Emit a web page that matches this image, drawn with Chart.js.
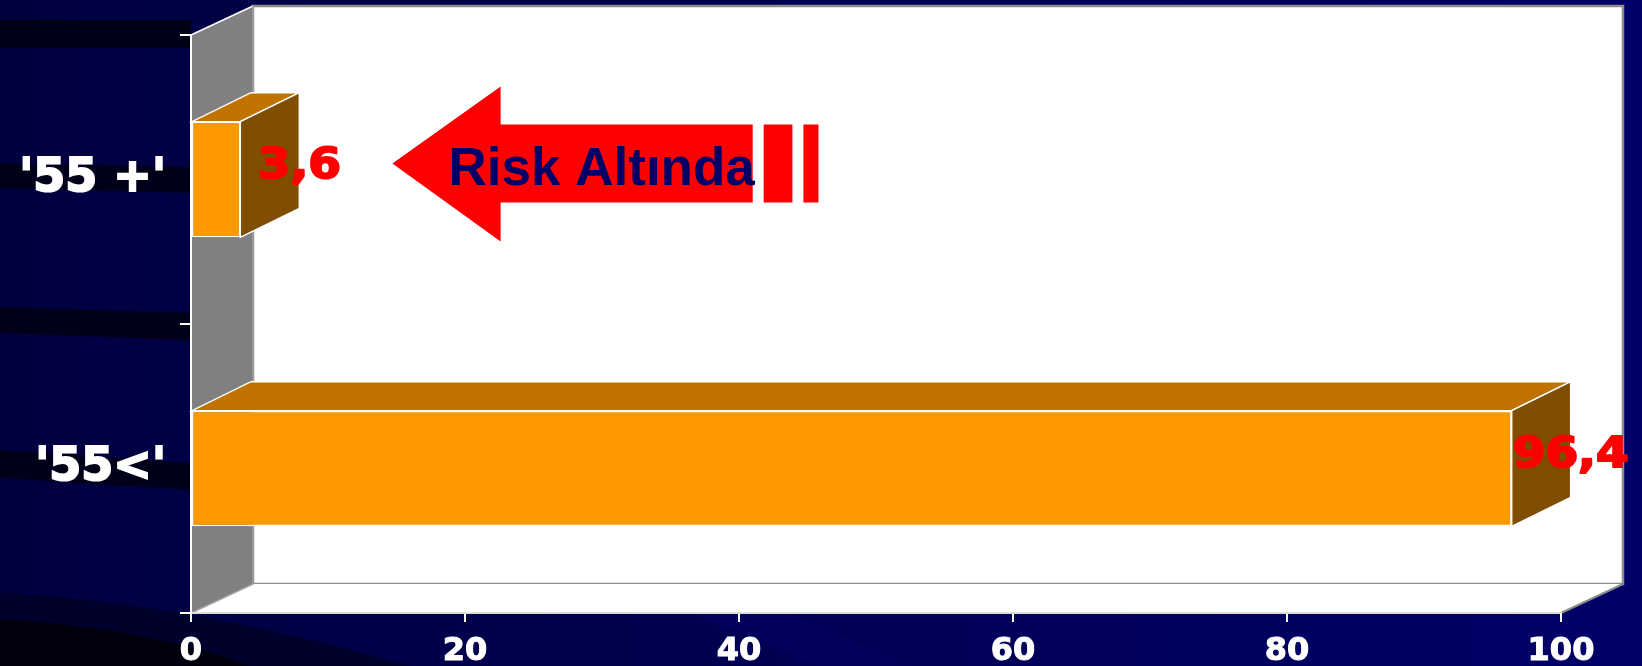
<!DOCTYPE html>
<html>
<head>
<meta charset="utf-8">
<script src="https://cdn.jsdelivr.net/npm/chart.js@4.4.1/dist/chart.umd.min.js"></script>
<style>
  html, body { margin: 0; padding: 0; background: #000048; }
  #wrap { width: 1642px; height: 666px; }
</style>
</head>
<body>
<div id="wrap"><canvas id="chart" width="1642" height="666"></canvas></div>
<script>
// data
const categories = ["'55 +'", "'55<'"];
const values = [3.6, 96.4];
const valueLabels = ['3,6', '96,4'];
const xTicks = [0, 20, 40, 60, 80, 100];
const calloutText = 'Risk Altında';

// 3d look
const WALL_DX = 62, WALL_DY = -29;
const BAR_DX = 59, BAR_DY = -29;

function poly(ctx, pts, fill, stroke, lw) {
    ctx.beginPath();
    ctx.moveTo(pts[0][0], pts[0][1]);
    for (let i = 1; i < pts.length; i++) ctx.lineTo(pts[i][0], pts[i][1]);
    ctx.closePath();
    if (fill) { ctx.fillStyle = fill; ctx.fill(); }
    if (stroke) { ctx.strokeStyle = stroke; ctx.lineWidth = lw || 1; ctx.stroke(); }
}

// background slide + walls of the box, drawn before the axes
const backdrop = {
    id: 'backdrop',
    beforeDraw(chart) {
        const ctx = chart.ctx;
        const { left: L, right: R, top: T, bottom: B } = chart.chartArea;
        const W = chart.width, H = chart.height;
        ctx.save();
        const g = ctx.createLinearGradient(0, 0, W, 0);
        g.addColorStop(0, '#000040');
        g.addColorStop(1, '#000068');
        ctx.fillStyle = g;
        ctx.fillRect(0, 0, W, H);

        // dark stripes of the template on the left
        const dark = '#000019';
        poly(ctx, [[0, 20], [L, 20], [L, 48], [0, 48]], dark);
        poly(ctx, [[0, 163], [L, 167], [L, 193], [0, 188]], dark);
        poly(ctx, [[0, 307], [L, 313], [L, 340], [0, 333]], dark);
        poly(ctx, [[0, 450], [L, 463], [L, 490], [0, 478]], dark);

        // bottom swooshes
        ctx.fillStyle = '#00002c';
        ctx.beginPath();
        ctx.moveTo(0, 592);
        ctx.quadraticCurveTo(200, 605, 410, H);
        ctx.lineTo(0, H);
        ctx.closePath();
        ctx.fill();
        ctx.fillStyle = '#00000f';
        ctx.beginPath();
        ctx.moveTo(0, 619);
        ctx.quadraticCurveTo(150, 628, 250, H);
        ctx.lineTo(0, H);
        ctx.closePath();
        ctx.fill();
        ctx.fillStyle = '#00005a';
        ctx.beginPath();
        ctx.moveTo(690, B);
        ctx.lineTo(790, B);
        ctx.lineTo(910, H);
        ctx.lineTo(820, H);
        ctx.closePath();
        ctx.fill();

        // back wall
        poly(ctx, [[L + WALL_DX, T + WALL_DY], [R + WALL_DX, T + WALL_DY], [R + WALL_DX, B + WALL_DY], [L + WALL_DX, B + WALL_DY]], '#ffffff', '#8c8c8c', 2.5);
        // floor
        poly(ctx, [[L, B], [R, B], [R + WALL_DX, B + WALL_DY], [L + WALL_DX, B + WALL_DY]], '#ffffff');
        ctx.strokeStyle = '#8c8c8c';
        ctx.lineWidth = 2;
        ctx.beginPath();
        ctx.moveTo(R, B);
        ctx.lineTo(R + WALL_DX, B + WALL_DY);
        ctx.stroke();
        // side wall
        poly(ctx, [[L, T], [L + WALL_DX, T + WALL_DY], [L + WALL_DX, B + WALL_DY], [L, B]], '#808080');
        ctx.strokeStyle = '#ffffff';
        ctx.lineWidth = 1.5;
        ctx.beginPath();
        ctx.moveTo(L, T);
        ctx.lineTo(L + WALL_DX, T + WALL_DY);
        ctx.stroke();
        ctx.strokeStyle = '#a0a0a0';
        ctx.beginPath();
        ctx.moveTo(L + WALL_DX, T + WALL_DY);
        ctx.lineTo(L + WALL_DX, B + WALL_DY);
        ctx.lineTo(L, B);
        ctx.stroke();
        ctx.restore();
    }
};

// top / side faces, value labels and the arrow callout
const boxes = {
    id: 'boxes',
    afterDatasetsDraw(chart) {
        const ctx = chart.ctx;
        const xs = chart.scales.x, ys = chart.scales.y;
        const meta = chart.getDatasetMeta(0);
        ctx.save();
        meta.data.forEach((bar, i) => {
            const top = bar.y - bar.height / 2, bottom = bar.y + bar.height / 2;
            const x0 = bar.base, x1 = bar.x;
            poly(ctx, [[x0, top], [x1, top], [x1 + BAR_DX, top + BAR_DY], [x0 + BAR_DX, top + BAR_DY]], '#c07300', '#ffffff', 1.5);
            poly(ctx, [[x1, top], [x1 + BAR_DX, top + BAR_DY], [x1 + BAR_DX, bottom + BAR_DY], [x1, bottom]], '#804e00', '#ffffff', 1.5);
        });
        meta.data.forEach((bar, i) => {
            ctx.save();
            ctx.translate(bar.x + BAR_DX, bar.y + BAR_DY / 2);
            ctx.scale(1.12, 1);
            ctx.font = 'bold 42px "DejaVu Sans"';
            ctx.fillStyle = '#ff0000';
            ctx.strokeStyle = '#ff0000';
            ctx.lineWidth = 2;
            ctx.lineJoin = 'round';
            ctx.textAlign = 'center';
            ctx.textBaseline = 'middle';
            ctx.strokeText(valueLabels[i], 0, 2);
            ctx.fillText(valueLabels[i], 0, 2);
            ctx.restore();
        });

        // arrow pointing at the small bar
        const cy = ys.getPixelForValue(0) - 16;
        const tipX = xs.getPixelForValue(14.7);
        const headX = xs.getPixelForValue(22.6);
        const endX = xs.getPixelForValue(41.0);
        poly(ctx, [[tipX, cy], [headX, cy - 77], [headX, cy - 39], [endX, cy - 39], [endX, cy + 39], [headX, cy + 39], [headX, cy + 78]], '#ff0000');
        [[41.8, 43.9], [44.7, 45.8]].forEach(s => {
            const a = xs.getPixelForValue(s[0]), b = xs.getPixelForValue(s[1]);
            ctx.fillStyle = '#ff0000';
            ctx.fillRect(a, cy - 39, b - a, 78);
        });
        ctx.font = 'bold 53px "Liberation Sans", Arial';
        ctx.fillStyle = '#000066';
        ctx.textAlign = 'left';
        ctx.textBaseline = 'alphabetic';
        ctx.fillText(calloutText, xs.getPixelForValue(18.8), cy + 21);
        ctx.restore();
    }
};

const chart = new Chart(document.getElementById('chart'), {
    type: 'bar',
    data: {
        labels: categories,
        datasets: [{
            data: values,
            backgroundColor: '#ff9900',
            borderColor: '#ffffff',
            borderWidth: 1.5,
            borderSkipped: false,
            barPercentage: 0.4,
            categoryPercentage: 1
        }]
    },
    options: {
        indexAxis: 'y',
        responsive: false,
        animation: false,
        devicePixelRatio: 1,
        layout: { padding: { top: 35, right: 81, left: 0, bottom: 0 } },
        plugins: { legend: { display: false }, tooltip: { enabled: false } },
        scales: {
            x: {
                min: 0,
                max: 100,
                afterBuildTicks: s => { s.ticks = xTicks.map(v => ({ value: v })); },
                afterFit: s => { s.height = 53; s.paddingLeft = 0; s.paddingRight = 0; },
                grid: { drawOnChartArea: false, color: '#ffffff', lineWidth: 2, tickLength: 9 },
                border: { color: '#dcdcdc', width: 2 },
                ticks: {
                    color: '#ffffff', padding: 10, maxRotation: 0,
                    textStrokeColor: '#ffffff', textStrokeWidth: 1,
                    font: { family: 'DejaVu Sans', weight: 'bold', size: 32 }
                }
            },
            y: {
                offset: true,
                afterFit: s => { s.width = 191; s.paddingTop = 0; s.paddingBottom = 0; },
                grid: { offset: true, drawOnChartArea: false, color: '#ffffff', lineWidth: 2, tickLength: 11 },
                border: { color: '#ffffff', width: 2 },
                ticks: {
                    color: '#ffffff', padding: 14,
                    textStrokeColor: '#ffffff', textStrokeWidth: 2,
                    font: { family: 'DejaVu Sans', weight: 'bold', size: 46 }
                }
            }
        }
    },
    plugins: [backdrop, boxes]
});
</script>
</body>
</html>
